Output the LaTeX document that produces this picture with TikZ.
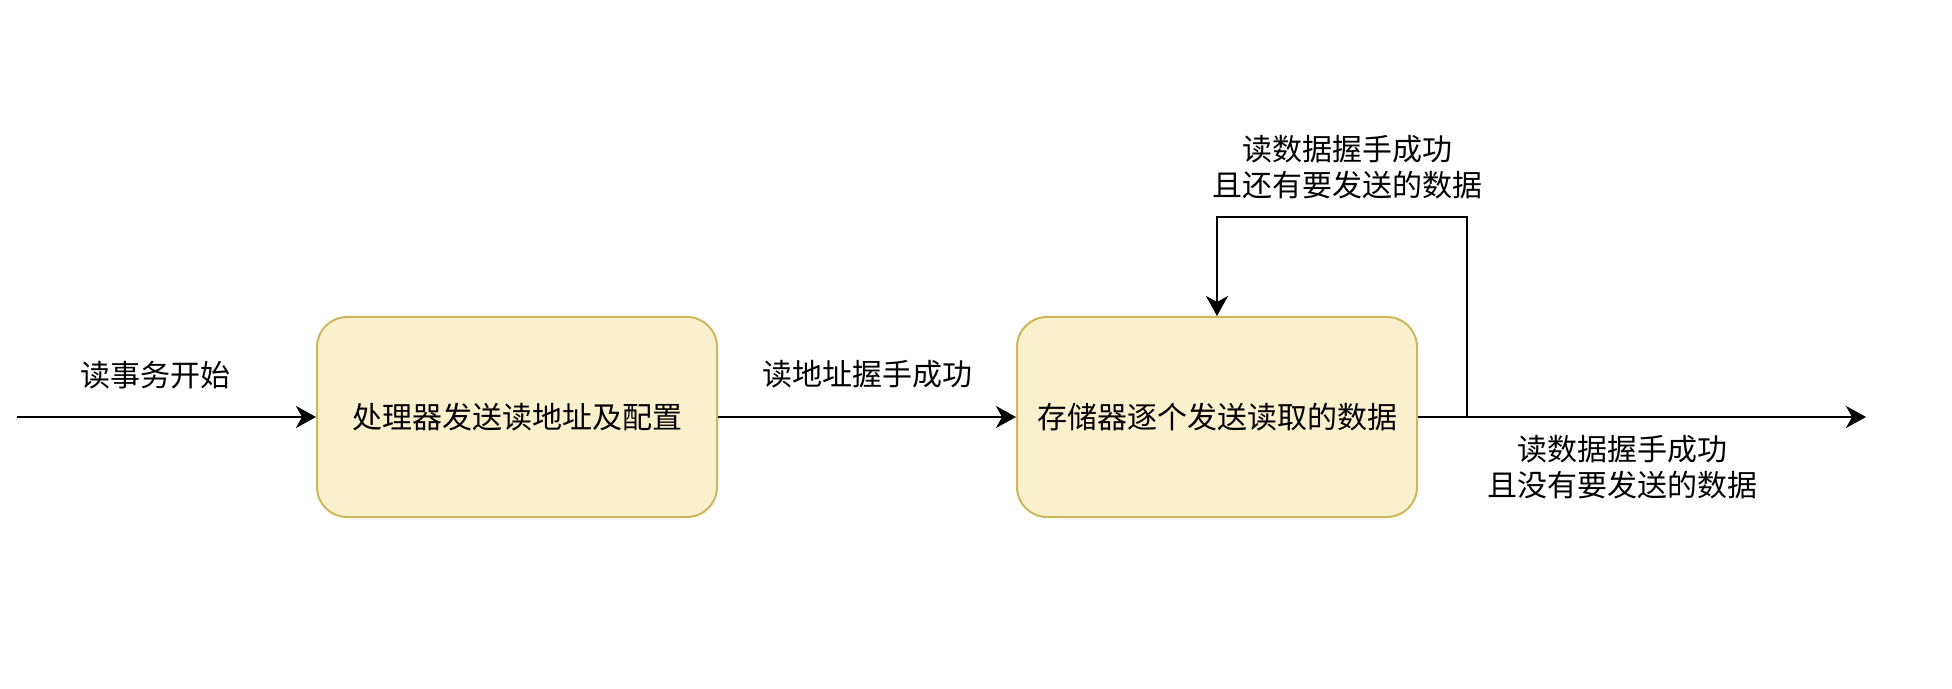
\documentclass[tikz,border=0pt]{standalone}
\usepackage{fontspec}
\setmainfont{Noto Sans CJK SC}
\usetikzlibrary{arrows.meta}
\definecolor{boxfill}{HTML}{F9F0CE}
\definecolor{boxdraw}{HTML}{D0B65A}
\begin{document}
\begin{tikzpicture}[x=0.5pt,y=-0.5pt,
  state/.style={draw=boxdraw,fill=boxfill,line width=1pt,rounded corners=15pt,
    minimum width=200pt,minimum height=100pt,inner sep=0pt,font=\fontsize{15}{18}\selectfont},
  lbl/.style={align=center,inner sep=0pt,font=\fontsize{15}{18}\selectfont},
  conn/.style={line width=1pt,-{Stealth[length=10pt,width=11pt,inset=3pt]}}]
\useasboundingbox (0,0) rectangle (1952,689);
\node[state] (a) at (517,417) {处理器发送读地址及配置};
\node[state] (b) at (1217,417) {存储器逐个发送读取的数据};
\coordinate (start) at (17,417);
\coordinate (end) at (1866,417);
\coordinate (c1) at (1467,417);
\coordinate (c2) at (1467,217);
\coordinate (c3) at (1217,217);
\draw[conn] (start) -- (a);
\draw[conn] (a) -- (b);
\draw[conn] (b.east) -- (end);
\draw[conn] (b.east) -- (c1) -- (c2) -- (c3) -- (b.north);
\node[lbl] (l1) at (155,375) {读事务开始};
\node[lbl] (l2) at (867,374) {读地址握手成功};
\node[lbl] (l3) at (1347,167) {读数据握手成功\\且还有要发送的数据};
\node[lbl] (l4) at (1622,467) {读数据握手成功\\且没有要发送的数据};
\end{tikzpicture}
\end{document}
